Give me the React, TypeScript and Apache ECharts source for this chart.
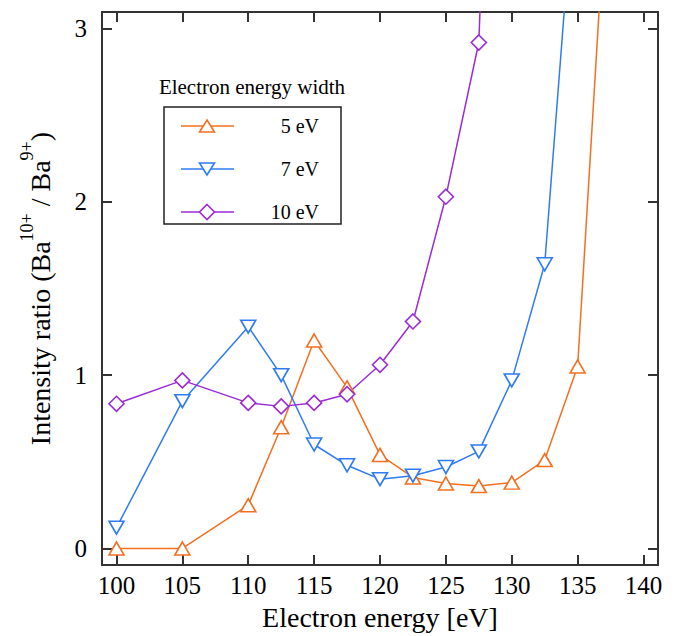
import React, { useEffect, useRef } from "react";
import * as echarts from "echarts";

const energy = [100, 105, 110, 112.5, 115, 117.5, 120, 122.5, 125, 127.5, 130, 132.5, 135, 137.5];
const width5eV = [0, 0, 0.25, 0.7, 1.2, 0.93, 0.54, 0.41, 0.375, 0.36, 0.38, 0.51, 1.05, 4.2];
const width7eV = [0.12, 0.85, 1.28, 1.0, 0.6, 0.48, 0.4, 0.42, 0.47, 0.56, 0.97, 1.64, 4.1];
const width10eV = [0.835, 0.97, 0.84, 0.82, 0.84, 0.89, 1.06, 1.31, 2.03, 2.92, 8.0];
const xTicks = [100, 105, 110, 115, 120, 125, 130, 135, 140];
const yTicks = [0, 1, 2, 3];
const legendLabels = ["5 eV", "7 eV", "10 eV"];

const ORANGE = "#F36F21";
const BLUE = "#2F7BF5";
const PURPLE = "#9B2BD6";
const FONT = "Liberation Serif";
const AXIS = "#333";

export default function App() {
  const ref = useRef<HTMLDivElement>(null);
  useEffect(() => {
    if (!ref.current) return;
    document.body.style.margin = "0";
    const chart = echarts.init(ref.current, null, { renderer: "svg" });
    const pairs = (vals: number[]) => vals.map((v, i) => [energy[i], v]);
    const axisCommon = {
      type: "value" as const,
      axisLine: { show: true, onZero: false, lineStyle: { color: AXIS, width: 2 } },
      splitLine: { show: false },
    };
    const mkSeries = (name: string, data: number[], color: string, symbol: string, size: any, rotate = 0) => ({
      name,
      type: "line",
      data: pairs(data),
      symbol,
      symbolSize: size,
      symbolRotate: rotate,
      showAllSymbol: true,
      clip: true,
      lineStyle: { color, width: 1.5 },
      itemStyle: { color: "#fff", borderColor: color, borderWidth: 1.6 },
      emphasis: { disabled: true },
    });
    const legendRow = (y: number, color: string, label: string, marker: any) => [
      { type: "line", shape: { x1: 181, y1: y, x2: 234, y2: y }, style: { stroke: color, lineWidth: 1.5 } },
      { ...marker, style: { fill: "#fff", stroke: color, lineWidth: 1.6 } },
      {
        type: "text",
        x: 319,
        y,
        style: { text: label, fontFamily: FONT, fontSize: 20, fill: "#000", align: "right", verticalAlign: "middle" },
      },
    ];
    chart.setOption({
      animation: false,
      grid: { left: 102, top: 12, right: 26, bottom: 69, containLabel: false },
      xAxis: [
        {
          ...axisCommon,
          position: "bottom",
          min: 98.9,
          max: 141.1,
          axisTick: { show: true, inside: true, length: 10, customValues: xTicks, lineStyle: { color: AXIS, width: 2 } },
          axisLabel: { customValues: xTicks, fontFamily: FONT, fontSize: 25, color: "#000", margin: 8 },
          name: "Electron energy [eV]",
          nameLocation: "middle",
          nameGap: 36,
          nameTextStyle: { fontFamily: FONT, fontSize: 28, color: "#000" },
        },
        {
          ...axisCommon,
          position: "top",
          min: 98.9,
          max: 141.1,
          axisTick: { show: true, inside: true, length: 10, customValues: xTicks, lineStyle: { color: AXIS, width: 2 } },
          axisLabel: { show: false },
        },
      ],
      yAxis: [
        {
          ...axisCommon,
          position: "left",
          min: -0.096,
          max: 3.096,
          axisTick: { show: true, inside: true, length: 10, customValues: yTicks, lineStyle: { color: AXIS, width: 2 } },
          axisLabel: { customValues: yTicks, fontFamily: FONT, fontSize: 25, color: "#000", margin: 15 },
          name: "{n|Intensity ratio (Ba}{s|10+}{n| / Ba}{s|9+}{n|)}",
          nameLocation: "middle",
          nameRotate: 90,
          nameGap: 48,
          nameTextStyle: {
            fontFamily: FONT,
            color: "#000",
            rich: {
              n: { fontFamily: FONT, fontSize: 28, color: "#000", lineHeight: 36, verticalAlign: "bottom" },
              s: { fontFamily: FONT, fontSize: 18, color: "#000", lineHeight: 36, verticalAlign: "top" },
            },
          },
        },
        {
          ...axisCommon,
          position: "right",
          min: -0.096,
          max: 3.096,
          axisTick: { show: true, inside: true, length: 10, customValues: yTicks, lineStyle: { color: AXIS, width: 2 } },
          axisLabel: { show: false },
        },
      ],
      series: [
        mkSeries("5 eV", width5eV, ORANGE, "triangle", [15, 13]),
        mkSeries("7 eV", width7eV, BLUE, "triangle", [15, 13], 180),
        mkSeries("10 eV", width10eV, PURPLE, "diamond", [15, 15]),
      ],
      graphic: [
        {
          type: "text",
          x: 252,
          y: 87,
          style: { text: "Electron energy width", fontFamily: FONT, fontSize: 21, fill: "#000", align: "center", verticalAlign: "middle" },
        },
        { type: "rect", shape: { x: 164, y: 107, width: 177, height: 117 }, style: { fill: "none", stroke: "#222", lineWidth: 1.5 } },
        ...legendRow(126, ORANGE, legendLabels[0], { type: "polygon", shape: { points: [[199.5, 132], [214.5, 132], [207, 120]] } }),
        ...legendRow(169, BLUE, legendLabels[1], { type: "polygon", shape: { points: [[199.5, 163], [214.5, 163], [207, 175]] } }),
        ...legendRow(212, PURPLE, legendLabels[2], { type: "polygon", shape: { points: [[207, 204.5], [214.5, 212], [207, 219.5], [199.5, 212]] } }),
      ],
    });
    return () => chart.dispose();
  }, []);
  return <div ref={ref} style={{ width: 684, height: 636 }} />;
}
